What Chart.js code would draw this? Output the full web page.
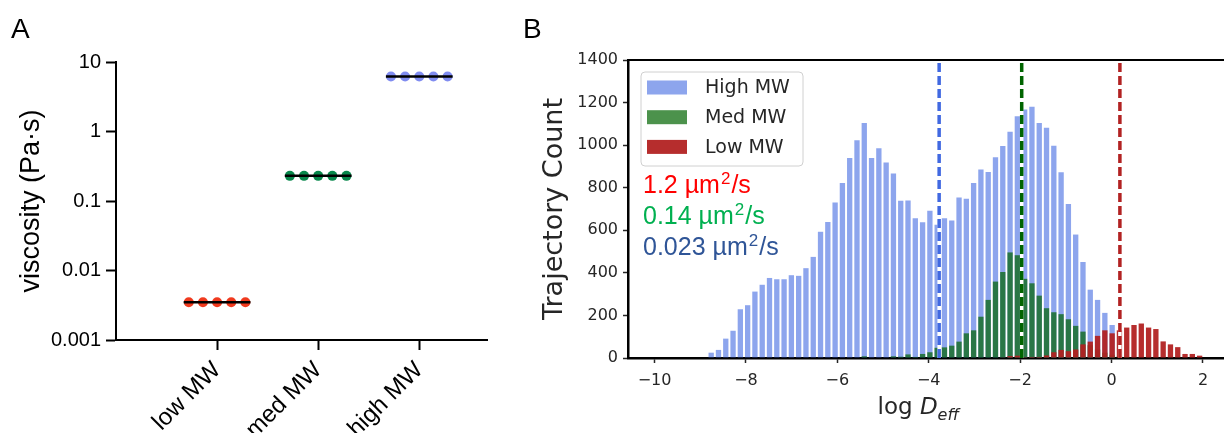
<!DOCTYPE html>
<html>
<head>
<meta charset="utf-8">
<script src="https://cdn.jsdelivr.net/npm/chart.js@4.4.1/dist/chart.umd.min.js"></script>
<style>
  html, body { margin: 0; padding: 0; background: #fff; }
  #wrapA { position: absolute; left: 0; top: 0; width: 500px; height: 433px; }
  #wrapB { position: absolute; left: 500px; top: 0; width: 724px; height: 433px; }
</style>
</head>
<body>
<div id="wrapA"><canvas id="viscosityChart"></canvas></div>
<div id="wrapB"><canvas id="diffusionChart"></canvas></div>
<script>
// panel A - viscosity of the three samples (Pa·s), 5 replicates each
const sampleLabels = ['low MW', 'med MW', 'high MW'];
const lowVisc = [0.0035, 0.0035, 0.0035, 0.0035, 0.0035];
const medVisc = [0.23, 0.23, 0.23, 0.23, 0.23];
const highVisc = [6.2, 6.2, 6.2, 6.2, 6.2];
const viscTicks = [0.001, 0.01, 0.1, 1, 10];
const viscTickLabels = ['0.001', '0.01', '0.1', '1', '10'];
const replicateOffsets = [-0.28, -0.14, 0, 0.14, 0.28];

// panel B - histogram of log D_eff (trajectory counts per bin)
const binStart = -8.76;
const binWidth = 0.1595;
const highCounts = [
    25, 38, 91, 128, 229, 248, 312, 344, 376, 370,
    370, 389, 386, 422, 475, 593, 639, 731, 822, 940,
    1023, 1104, 940, 985, 919, 867, 739, 740, 657, 638,
    692, 626, 657, 646, 754, 748, 822, 886, 874, 943,
    996, 1063, 1136, 1167, 1180, 1104, 1082, 997, 873, 724,
    580, 451, 321, 273, 212, 155, 0, 0, 0, 0,
    0, 0, 0, 0, 0, 0, 0, 0
];
const medCounts = [
    0, 0, 0, 0, 0, 0, 0, 0, 0, 0,
    0, 0, 0, 0, 0, 0, 0, 0, 0, 0,
    0, 8, 0, 0, 0, 8, 6, 17, 5, 19,
    27, 48, 50, 58, 77, 116, 130, 194, 273, 359,
    404, 496, 483, 372, 351, 293, 234, 215, 206, 182,
    151, 124, 60, 40, 25, 15, 8, 4, 0, 0,
    0, 0, 0, 0, 0, 0, 0, 0
];
const lowCounts = [
    0, 0, 0, 0, 0, 0, 0, 0, 0, 0,
    0, 0, 0, 0, 0, 0, 0, 0, 0, 0,
    0, 0, 0, 0, 0, 0, 0, 0, 0, 0,
    0, 0, 0, 0, 0, 0, 0, 0, 0, 0,
    3, 9, 11, 4, 5, 5, 12, 27, 38, 32,
    40, 64, 77, 104, 130, 116, 130, 143, 155, 162,
    143, 136, 78, 64, 51, 19, 19, 11
];
const histLabels = ['High MW', 'Med MW', 'Low MW'];
const meanD = [0.023, 0.14, 1.2]; // µm²/s, same order as histLabels
const dTexts = ['1.2 µm²/s', '0.14 µm²/s', '0.023 µm²/s'];
const dTextColors = ['#ff0000', '#00b050', '#2f5597'];
const xTickValues = [-10, -8, -6, -4, -2, 0, 2];

const ARIAL = '"Liberation Sans", Arial, sans-serif';
const DEJAVU = '"DejaVu Sans", sans-serif';

// ---------- panel A ----------

const meanOf = (vals) => vals.reduce((a, b) => a + b, 0) / vals.length;
const viscColors = ['rgb(240,58,30)', 'rgb(8,135,75)', 'rgb(128,140,240)'];

const viscDatasets = [];
[lowVisc, medVisc, highVisc].forEach((vals, i) => {
    const pos = i + 1;
    viscDatasets.push({
        type: 'line',
        data: [{ x: pos - 0.33, y: meanOf(vals) }, { x: pos + 0.33, y: meanOf(vals) }],
        borderColor: '#000',
        borderWidth: 2.5,
        pointRadius: 0,
        order: 0
    });
    viscDatasets.push({
        type: 'scatter',
        data: vals.map((v, j) => ({ x: pos + replicateOffsets[j], y: v })),
        backgroundColor: viscColors[i],
        borderColor: viscColors[i],
        borderWidth: 0,
        pointRadius: 5,
        order: 1
    });
});

const panelLabel = (letter, x, y) => ({
    id: 'panelLabel' + letter,
    afterDraw(chart) {
        const ctx = chart.ctx;
        ctx.save();
        ctx.font = '28px ' + ARIAL;
        ctx.fillStyle = '#000';
        ctx.textBaseline = 'alphabetic';
        ctx.fillText(letter, x, y);
        ctx.restore();
    }
});

new Chart(document.getElementById('viscosityChart'), {
    type: 'scatter',
    data: { datasets: viscDatasets },
    options: {
        responsive: true,
        maintainAspectRatio: false,
        animation: false,
        layout: { padding: { left: 0, top: 62, right: 13, bottom: 0 } },
        plugins: { legend: { display: false }, tooltip: { enabled: false } },
        scales: {
            x: {
                type: 'linear',
                min: 0,
                max: 3.67,
                afterBuildTicks: (scale) => { scale.ticks = sampleLabels.map((_, i) => ({ value: i + 1 })); },
                afterFit: (scale) => { scale.height = 93; },
                ticks: {
                    autoSkip: false,
                    minRotation: 45,
                    maxRotation: 45,
                    padding: 6,
                    color: '#000',
                    font: { family: ARIAL, size: 24 },
                    callback: (v) => sampleLabels[v - 1]
                },
                grid: { drawOnChartArea: false, drawTicks: true, tickLength: 10, tickWidth: 2, tickColor: '#000' },
                border: { display: true, color: '#000', width: 2 }
            },
            y: {
                type: 'logarithmic',
                min: 0.001,
                max: 10,
                afterBuildTicks: (scale) => { scale.ticks = viscTicks.map(v => ({ value: v })); },
                afterFit: (scale) => { scale.width = 116; },
                ticks: {
                    padding: 5,
                    color: '#000',
                    font: { family: ARIAL, size: 20 },
                    callback: (v) => viscTickLabels[viscTicks.indexOf(v)]
                },
                grid: { drawOnChartArea: false, drawTicks: true, tickLength: 10, tickWidth: 2, tickColor: '#000' },
                border: { display: true, color: '#000', width: 2 },
                title: {
                    display: true,
                    text: 'viscosity (Pa·s)',
                    color: '#000',
                    font: { family: ARIAL, size: 27 },
                    padding: { top: 15, bottom: 0 }
                }
            }
        }
    },
    plugins: [panelLabel('A', 11, 38)]
});

// ---------- panel B ----------

const binCenters = highCounts.map((_, i) => +(binStart + i * binWidth).toFixed(4));
const histPoints = (counts) => counts.map((c, i) => ({ x: binCenters[i], y: c }));
const histColors = ['rgba(65,105,225,0.6)', 'rgba(0,100,0,0.7)', 'rgba(178,34,34,0.95)'];
const lineColors = ['royalblue', 'darkgreen', 'firebrick'];

const histDatasets = [];
[highCounts, medCounts, lowCounts].forEach((counts, i) => {
    histDatasets.push({
        label: histLabels[i],
        data: histPoints(counts),
        backgroundColor: histColors[i],
        borderWidth: 0,
        order: 4 - i
    });
});
meanD.forEach((d, i) => {
    const lnD = Math.log(d);
    // white underlay so the dash gaps look white like the original
    histDatasets.push({
        type: 'line',
        data: [{ x: lnD, y: 0 }, { x: lnD, y: 1400 }],
        borderColor: '#fff',
        borderWidth: 3.5,
        pointRadius: 0,
        order: 1
    });
    histDatasets.push({
        type: 'line',
        data: [{ x: lnD, y: 0 }, { x: lnD, y: 1400 }],
        borderColor: lineColors[i],
        borderWidth: 3.5,
        borderDash: [9, 4],
        pointRadius: 0,
        order: 0
    });
});

const histExtras = {
    id: 'histExtras',
    afterDraw(chart) {
        const ctx = chart.ctx;
        const area = chart.chartArea;
        ctx.save();

        // top spine
        ctx.strokeStyle = '#000';
        ctx.lineWidth = 2;
        ctx.beginPath();
        ctx.moveTo(area.left, area.top);
        ctx.lineTo(area.right, area.top);
        ctx.stroke();

        // legend box
        const lx = area.left + 13, ly = area.top + 12, lw = 162, lh = 94;
        ctx.fillStyle = 'rgba(255,255,255,0.8)';
        ctx.strokeStyle = '#d0d0d0';
        ctx.lineWidth = 1;
        ctx.beginPath();
        ctx.roundRect(lx, ly, lw, lh, 4);
        ctx.fill();
        ctx.stroke();
        ctx.font = '19px ' + DEJAVU;
        ctx.textBaseline = 'middle';
        histLabels.forEach((lab, i) => {
            const cy = ly + 15.5 + i * 29.7;
            ctx.fillStyle = '#fff';
            ctx.fillRect(lx + 6, cy - 7, 40, 14);
            ctx.fillStyle = histColors[i];
            ctx.fillRect(lx + 6, cy - 7, 40, 14);
            ctx.fillStyle = '#262626';
            ctx.fillText(lab, lx + 64, cy + 1);
        });

        // diffusivity annotations, the ² drawn as a raised smaller digit
        ctx.textBaseline = 'alphabetic';
        dTexts.forEach((t, i) => {
            const [head, tail] = t.split('²');
            const by = area.top + 133 + i * 31;
            let x = area.left + 15;
            ctx.fillStyle = dTextColors[i];
            ctx.font = '25px ' + ARIAL;
            ctx.fillText(head, x, by);
            x += ctx.measureText(head).width + 1;
            ctx.font = '17px ' + ARIAL;
            ctx.fillText('2', x, by - 9);
            x += ctx.measureText('2').width + 1;
            ctx.font = '25px ' + ARIAL;
            ctx.fillText(tail, x, by);
        });

        // x axis title: log D_eff
        const parts = [
            { text: 'log ', font: '23px ' + DEJAVU, dy: 0 },
            { text: 'D', font: 'italic 23px ' + DEJAVU, dy: 0 },
            { text: 'eff', font: 'italic 16px ' + DEJAVU, dy: 6 }
        ];
        let total = 0;
        parts.forEach(p => { ctx.font = p.font; p.w = ctx.measureText(p.text).width; total += p.w; });
        let tx = area.left + area.width * 0.487 - total / 2;
        ctx.fillStyle = '#262626';
        parts.forEach(p => {
            ctx.font = p.font;
            ctx.fillText(p.text, tx, 414 + p.dy);
            tx += p.w;
        });

        // panel letter
        ctx.font = '28px ' + ARIAL;
        ctx.fillStyle = '#000';
        ctx.fillText('B', 23, 38);
        ctx.restore();
    }
};

new Chart(document.getElementById('diffusionChart'), {
    type: 'bar',
    data: { datasets: histDatasets },
    options: {
        responsive: true,
        maintainAspectRatio: false,
        animation: false,
        layout: { padding: { left: 0, top: 60, right: 0, bottom: 0 } },
        datasets: {
            bar: { grouped: false, barPercentage: 0.73, categoryPercentage: 1 }
        },
        plugins: { legend: { display: false }, tooltip: { enabled: false } },
        scales: {
            x: {
                type: 'linear',
                offset: false,
                min: -10.58,
                max: 2.46,
                afterBuildTicks: (scale) => { scale.ticks = xTickValues.map(v => ({ value: v })); },
                afterFit: (scale) => { scale.height = 75; },
                ticks: {
                    padding: 8,
                    color: '#262626',
                    font: { family: DEJAVU, size: 16 },
                    callback: (v) => (v < 0 ? '\u2212' + Math.abs(v) : String(v))
                },
                grid: { offset: false, drawOnChartArea: false, drawTicks: true, tickLength: 5, tickWidth: 1.5, tickColor: '#262626' },
                border: { display: true, color: '#000', width: 2.5 }
            },
            y: {
                min: 0,
                max: 1400,
                afterFit: (scale) => { scale.width = 128; },
                ticks: {
                    stepSize: 200,
                    padding: 5,
                    color: '#262626',
                    font: { family: DEJAVU, size: 16 },
                    callback: (v) => String(v)
                },
                grid: { drawOnChartArea: false, drawTicks: true, tickLength: 5, tickWidth: 1.5, tickColor: '#262626' },
                border: { display: true, color: '#000', width: 2.5 },
                title: {
                    display: true,
                    text: 'Trajectory Count',
                    color: '#262626',
                    font: { family: DEJAVU, size: 27 },
                    padding: { top: 39, bottom: 0 }
                }
            }
        }
    },
    plugins: [histExtras]
});
</script>
</body>
</html>
